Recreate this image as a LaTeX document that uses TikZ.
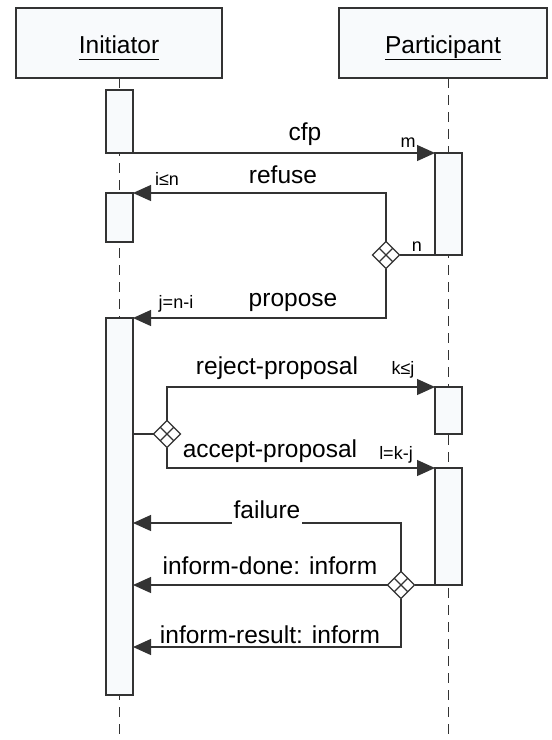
\documentclass[tikz,border=0pt]{standalone}
\usepackage{fontspec}
\setmainfont{Liberation Sans}
\usetikzlibrary{arrows.meta,shapes.geometric}
\definecolor{boxfill}{HTML}{F8FAFC}
\definecolor{ink}{HTML}{333333}

\begin{document}
\begin{tikzpicture}[x=1pt,y=-1pt,
	role/.style={draw=ink,fill=boxfill,line width=1.2pt,minimum height=70pt,inner sep=0pt,outer sep=0pt,text height=20pt,text depth=0pt,font=\fontsize{24.5}{29}\selectfont},
	act/.style={draw=ink,fill=boxfill,line width=1.2pt,minimum width=27pt,inner sep=0pt,outer sep=0pt},
	life/.style={draw=ink,line width=1.2pt,dash pattern=on 10pt off 7pt},
	msg/.style={draw=ink,line width=1.2pt,-{Triangle[length=18pt,width=16pt]}},
	wire/.style={draw=ink,line width=1.2pt},
	choice/.style={diamond,aspect=1,draw=ink,fill=white,line width=1.2pt,minimum size=27pt,inner sep=0pt,outer sep=0pt},
	lbl/.style={anchor=base,inner sep=0pt,font=\fontsize{24.5}{29}\selectfont},
	tag/.style={anchor=base,inner sep=0pt,font=\fontsize{18}{21}\selectfont}]
	\useasboundingbox (0,0) rectangle (552,740);
	\coordinate (bottom) at (0,740);
	\coordinate (il) at (119.5,0);
	\coordinate (pl) at (448.5,0);

	\node[role,minimum width=206pt] (init) at (119,43) {\underline{Initiator\vphantom{p}}};
	\node[role,minimum width=208pt] (part) at (443,43) {\underline{Participant}};
	\draw[life] (il |- init.south) -- (il |- bottom);
	\draw[life] (pl |- part.south) -- (pl |- bottom);

	\node[act,minimum height=63pt] (a1) at (119.5,121.5) {};
	\node[act,minimum height=49pt] (a2) at (119.5,217.5) {};
	\node[act,minimum height=377pt] (a3) at (119.5,506.5) {};
	\node[act,minimum height=102pt] (p1) at (448.5,204) {};
	\node[act,minimum height=47pt] (p2) at (448.5,410.5) {};
	\node[act,minimum height=117pt] (p3) at (448.5,526.5) {};

	\node[choice] (d1) at (386,255) {};
	\node[choice] (d2) at (167,434) {};
	\node[choice] (d3) at (401,585) {};
	\foreach \d in {d1,d2,d3}
		\draw[wire] (\d.north east) -- (\d.south west) (\d.north west) -- (\d.south east);

	\draw[msg] (a1.south east) -- (p1.north west);
	\draw[msg] (d1.north) |- (a2.north east);
	\draw[wire] (d1.east) -- (p1.south west);
	\draw[msg] (d1.south) |- (a3.north east);
	\draw[wire] (a3.east |- d2.west) -- (d2.west);
	\draw[msg] (d2.north) |- (p2.north west);
	\draw[msg] (d2.south) |- (p3.north west);
	\coordinate (fail) at (401,523);
	\coordinate (res) at (401,647);
	\draw[msg] (d3.north) |- (a3.east |- fail);
	\draw[wire] (d3.east) -- (p3.south west);
	\draw[msg] (d3.west) -- (a3.east |- d3.west);
	\draw[msg] (d3.south) |- (a3.east |- res);

	\node[lbl] (cfp) at (305,140) {cfp};
	\node[tag] (m) at (408,147) {m};
	\node[lbl] (refuse) at (283,183) {refuse};
	\node[tag] (iln) at (167,185) {i≤n};
	\node[tag] (n) at (417,251) {n};
	\node[lbl] (propose) at (293,306) {propose};
	\node[tag] (jni) at (176,308) {j=n-i};
	\node[lbl] (reject) at (277,374) {reject-proposal};
	\node[tag] (klj) at (403,374) {k≤j};
	\node[lbl] (accept) at (270,457) {accept-proposal};
	\node[tag] (lkj) at (396,459) {l=k-j};
	\node[lbl,fill=white,inner xsep=2pt,text depth=8pt] (failure) at (267,518) {failure};
	\node[lbl] (done) at (270,574) {inform-done: inform};
	\node[lbl] (result) at (270,643) {inform-result: inform};
\end{tikzpicture}
\end{document}
